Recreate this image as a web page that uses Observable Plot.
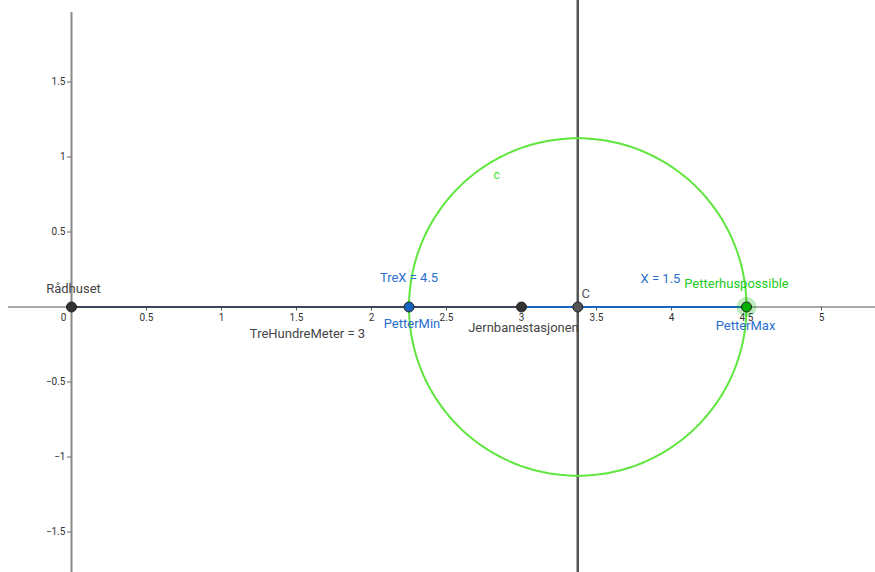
<!DOCTYPE html>
<html><head><meta charset="utf-8">
<script src="https://cdn.jsdelivr.net/npm/d3@7"></script>
<script src="https://cdn.jsdelivr.net/npm/@observablehq/plot@0.6"></script>
<style>body{margin:0;background:#fff}svg{display:block}</style>
</head><body><div id="chart"></div>
<script>
// Named data
const xTicks = [0.5, 1, 1.5, 2, 2.5, 3, 3.5, 4, 4.5, 5];
const yTicks = [1.5, 1, 0.5, -0.5, -1, -1.5];
const pointNames = ["Rådhuset", "PetterMin", "Jernbanestasjonen", "C", "PetterMax"];
const pointX = [0, 2.25, 3, 3.375, 4.5];
const pointY = [0, 0, 0, 0, 0];
const circleCenter = [3.375, 0];
const circleRadius = 1.125;
const segStart = [0, 3];
const segEnd = [3, 4.5];
const segLabels = ["TreHundreMeter = 3", "X = 1.5"];
const verticalLineX = [3.375];

const W = 875, H = 572, unit = 150, ox = 71, oy = 306.5;
const xDom = [-ox / unit, (W - ox) / unit];
const yDom = [-(H - oy) / unit, oy / unit];

const pts = pointNames.map((n, i) => ({name: n, x: pointX[i], y: pointY[i]}));
const P = Object.fromEntries(pts.map(p => [p.name, p]));
const circle = d3.range(0, 361, 2).map(a => ({
  x: circleCenter[0] + circleRadius * Math.cos(a * Math.PI / 180),
  y: circleCenter[1] + circleRadius * Math.sin(a * Math.PI / 180)
}));
const segs = segStart.map((s, i) => ({x1: s, x2: segEnd[i], label: segLabels[i]}));

const font = "Roboto, 'Liberation Sans', sans-serif";
const dark = "#333333", blue = "#1565c0", blueTxt = "#2a6fd0", green = "#5fe63f";
const px = 1 / unit;

const chart = Plot.plot({
  width: W, height: H,
  margin: 0,
  x: {type: "linear", domain: xDom, range: [0, W], axis: null},
  y: {type: "linear", domain: yDom, range: [H, 0], axis: null},
  style: {fontFamily: font, background: "#fff"},
  marks: [
    // axes
    Plot.ruleY([0], {x1: xDom[0] + 8 * px, x2: xDom[1], stroke: "#555", strokeWidth: 1.2}),
    Plot.ruleX([0], {y1: yDom[0], y2: yDom[1] - 12 * px, stroke: "#8a8a8a", strokeWidth: 2}),
    // ticks
    Plot.ruleX(xTicks, {y1: 0, y2: -4 * px, stroke: "#555", strokeWidth: 1}),
    Plot.text(xTicks, {x: d => d, y: 0, text: d => String(d), dy: 11, fontSize: 10, fill: "#333"}),
    Plot.text([0], {x: 0, y: 0, text: d => "0", dx: -8, dy: 11, fontSize: 10, fill: "#333"}),
    Plot.text(yTicks, {x: 0, y: d => d, text: d => String(d).replace("-", "−"), textAnchor: "end", dx: -6, fontSize: 10, fill: "#333"}),
    Plot.ruleY(yTicks, {x1: 0, x2: -4 * px, stroke: "#666", strokeWidth: 1}),
    // vertical line
    Plot.ruleX(verticalLineX, {stroke: "#555", strokeWidth: 2.5}),
    // circle
    Plot.line(circle, {x: "x", y: "y", stroke: green, strokeWidth: 2}),
    // segments
    Plot.link(segs, {x1: "x1", x2: "x2", y1: 0, y2: 0, stroke: (d, i) => d.x1 === 0 ? "#3a4656" : blue, strokeWidth: 2.2}),
    // halo
    Plot.dot([P.PetterMax], {x: "x", y: "y", r: 10, fill: "#00b000", fillOpacity: 0.25}),
    // points
    Plot.dot(pts, {x: "x", y: "y", r: 5,
      fill: d => d.name === "PetterMin" ? blue : d.name === "PetterMax" ? "#00b000" : d.name === "C" ? "#555" : dark,
      stroke: "#222", strokeWidth: 1}),
    // labels
    Plot.text([P["Rådhuset"]], {x: "x", y: "y", text: "name", dx: 2, dy: -18, fontSize: 13, fill: "#444"}),
    Plot.text([P.PetterMin], {x: "x", y: "y", text: d => "TreX = 4.5", dx: 0, dy: -29, fontSize: 13, fill: blueTxt}),
    Plot.text([P.PetterMin], {x: "x", y: "y", text: "name", dx: 3, dy: 17, fontSize: 13, fill: blueTxt}),
    Plot.text([P.Jernbanestasjonen], {x: "x", y: "y", text: "name", dx: 2, dy: 21, fontSize: 13, fill: "#444"}),
    Plot.text([P.C], {x: "x", y: "y", text: "name", dx: 8, dy: -13, fontSize: 13, fill: "#555"}),
    Plot.text([P.PetterMax], {x: "x", y: "y", text: "name", dx: -1, dy: 19, fontSize: 13, fill: blueTxt}),
    Plot.text([P.PetterMax], {x: "x", y: "y", text: d => "Petterhuspossible", dx: -10, dy: -23, fontSize: 13, fill: "#22cc22"}),
    Plot.text([segs[0]], {x: d => d.x2, y: 0, text: "label", dx: -214, dy: 27, fontSize: 13, fill: "#444"}),
    Plot.text([segs[1]], {x: d => d.x2, y: 0, text: "label", dx: -86, dy: -28, fontSize: 13, fill: blueTxt}),
    Plot.text([circleCenter], {x: d => d[0], y: d => d[1] + circleRadius, text: d => "c", dx: -81, dy: 37, fontSize: 12, fill: "#44dd22"})
  ]
});
document.getElementById("chart").append(chart);
</script></body></html>
